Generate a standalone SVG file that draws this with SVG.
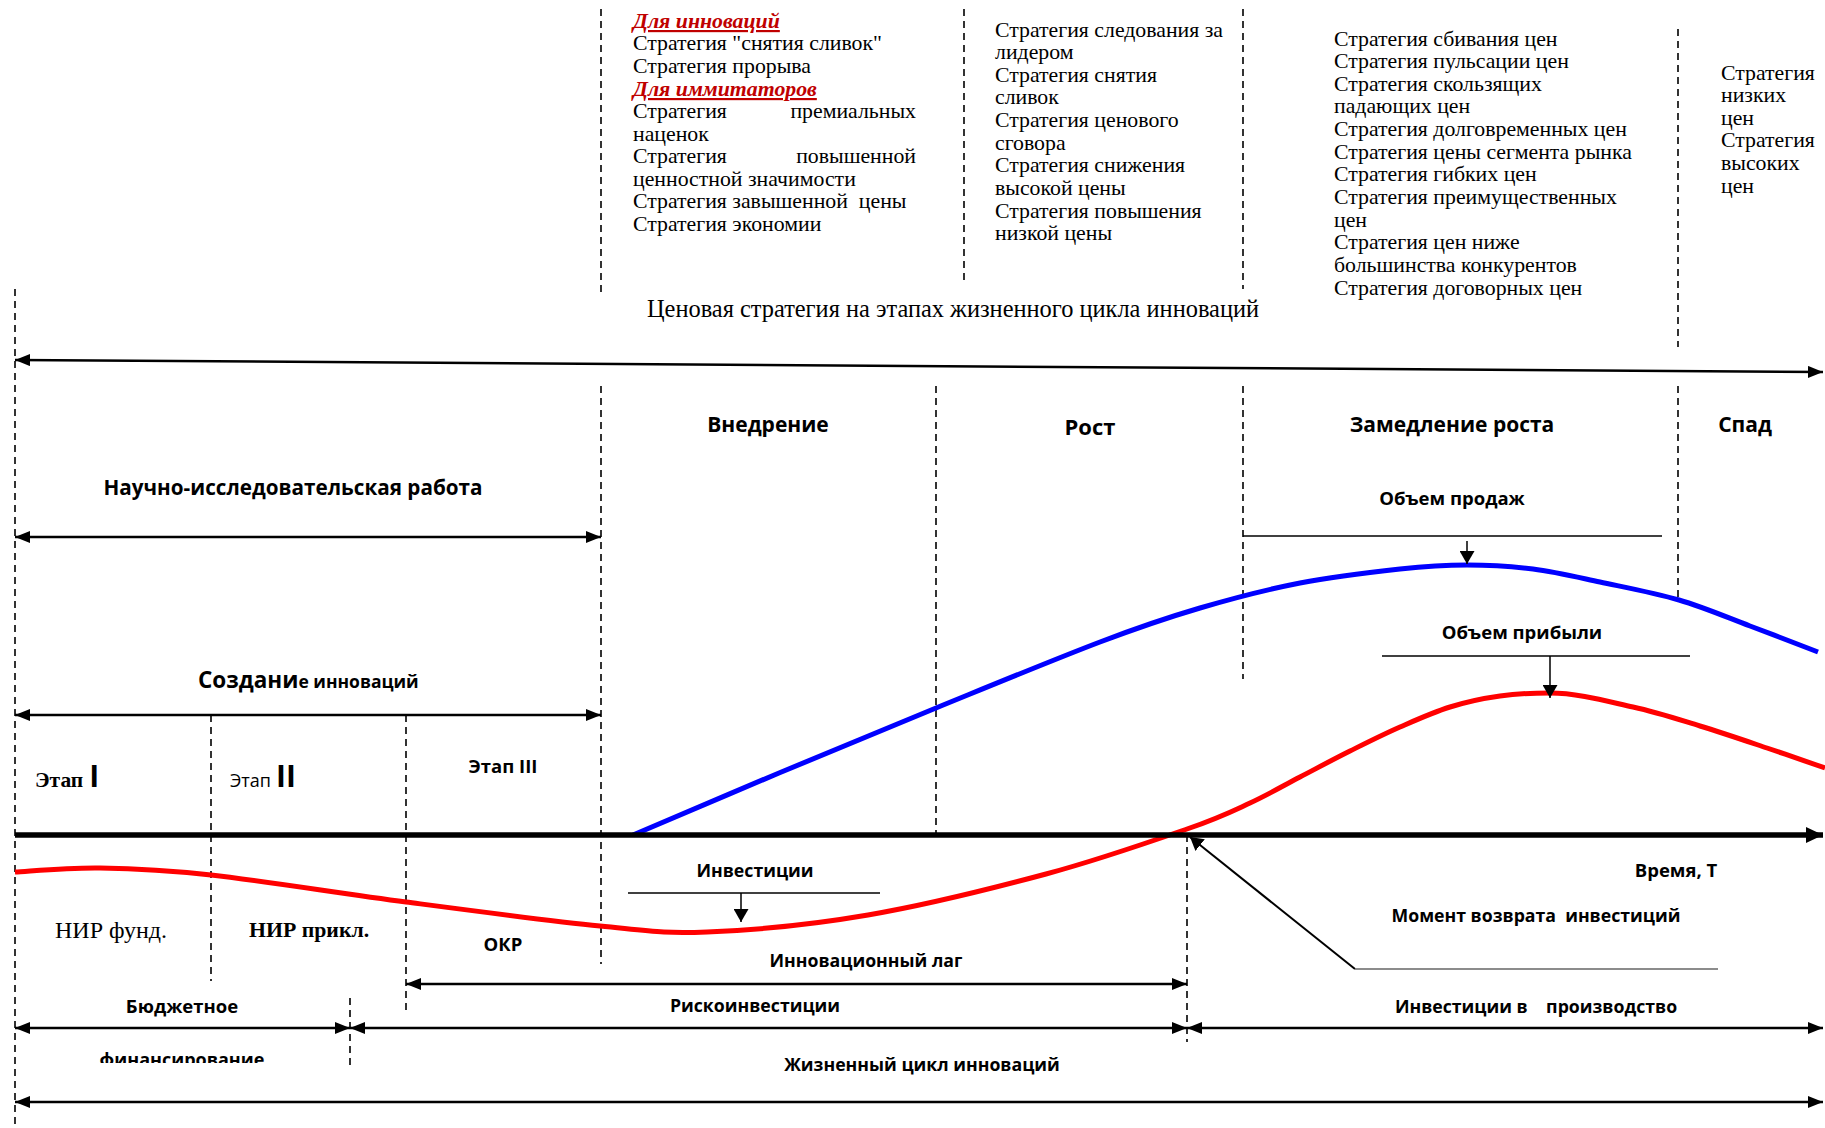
<svg xmlns="http://www.w3.org/2000/svg" width="1825" height="1128" viewBox="0 0 1825 1128">
<defs>
<style>
.ser{font-family:"Liberation Serif","Times New Roman",serif;font-size:21.8px;fill:#000}
.hd{font-family:"Liberation Serif","Times New Roman",serif;font-size:21.8px;fill:#c00000;font-weight:bold;font-style:italic;text-decoration:underline}
.b{font-family:"Open Sans","Noto Sans",sans-serif;font-weight:bold;fill:#000;font-size:18.5px}
.s{font-size:17.7px}
.ph{font-family:"Open Sans","Noto Sans",sans-serif;font-weight:bold;fill:#000;font-size:21px}
.mid{text-anchor:middle}
.dash{stroke:#000;stroke-width:1.6;stroke-dasharray:7 5;fill:none}
.ln{stroke:#000;stroke-width:2.5;fill:none}
.thin{stroke:#000;stroke-width:1.5;fill:none}
</style>
<marker id="arr" viewBox="0 0 15 12" refX="15" refY="6" markerWidth="15" markerHeight="12" markerUnits="userSpaceOnUse" orient="auto-start-reverse"><path d="M0,0 L15,6 L0,12 z" fill="#000"/></marker>
<marker id="arrBig" viewBox="0 0 17 16" refX="17" refY="8" markerWidth="17" markerHeight="16" markerUnits="userSpaceOnUse" orient="auto-start-reverse"><path d="M0,0 L17,8 L0,16 z" fill="#000"/></marker>
<marker id="arrSm" viewBox="0 0 13 15" refX="13" refY="7.5" markerWidth="13" markerHeight="15" markerUnits="userSpaceOnUse" orient="auto"><path d="M0,0 L13,7.5 L0,15 z" fill="#000"/></marker>
<clipPath id="clipFin"><rect x="0" y="1040" width="400" height="23"/></clipPath>
</defs>
<rect width="1825" height="1128" fill="#fff"/>

<g id="gridlines">
<line class="dash" x1="15" y1="289" x2="15" y2="1128"/>
<line class="dash" x1="601" y1="9" x2="601" y2="297"/>
<line class="dash" x1="964" y1="9" x2="964" y2="283"/>
<line class="dash" x1="1243" y1="9" x2="1243" y2="289"/>
<line class="dash" x1="1678" y1="29" x2="1678" y2="347"/>
<line class="dash" x1="601" y1="386" x2="601" y2="964"/>
<line class="dash" x1="936" y1="386" x2="936" y2="835"/>
<line class="dash" x1="1243" y1="386" x2="1243" y2="679"/>
<line class="dash" x1="1678" y1="386" x2="1678" y2="598"/>
<line class="dash" x1="211" y1="715" x2="211" y2="981"/>
<line class="dash" x1="406" y1="715" x2="406" y2="1014"/>
<line class="dash" x1="1187" y1="835" x2="1187" y2="1042"/>
<line class="dash" x1="350" y1="998" x2="350" y2="1069"/>
</g>

<g id="curves">
<path id="sales-curve" fill="none" stroke="#0000ff" stroke-width="5" d="M633,835 C657.3,824.7 728.5,794.2 779,773 C829.5,751.8 882.5,729.8 936,708 C989.5,686.2 1056,658.7 1100,642 C1144,625.3 1166.7,617.8 1200,608 C1233.3,598.2 1266.7,589.5 1300,583 C1333.3,576.5 1372.2,572 1400,569 C1427.8,566 1444.8,565 1467,565 C1489.2,565 1510.8,566.2 1533,569 C1555.2,571.8 1575.7,576.8 1600,582 C1624.3,587.2 1654,592.7 1679,600 C1704,607.3 1726.8,617.3 1750,626 C1773.2,634.7 1806.7,647.7 1818,652"/>
<path id="profit-curve" fill="none" stroke="#ff0000" stroke-width="5" d="M15,872 C29.2,871.3 67.3,867.5 100,868 C132.7,868.5 160,869.3 211,875 C262,880.7 341.2,893.5 406,902 C470.8,910.5 549.8,921 600,926 C650.2,931 662.3,933.8 707,932 C751.7,930.2 811.5,924.7 868,915 C924.5,905.3 992.8,888.3 1046,874 C1099.2,859.7 1153,840.8 1187,829 C1221,817.2 1231.2,811.7 1250,803 C1268.8,794.3 1283.3,785.7 1300,777 C1316.7,768.3 1333.3,759.3 1350,751 C1366.7,742.7 1383.3,734.3 1400,727 C1416.7,719.7 1433.3,712.2 1450,707 C1466.7,701.8 1483.3,698.3 1500,696 C1516.7,693.7 1525,693 1550,693 C1578,693 1608,701.5 1633,707 C1658,712.5 1677.7,719.2 1700,726 C1722.3,732.8 1746.2,741 1767,748 C1787.8,755 1815.3,764.7 1825,768"/>
</g>

<g id="connectors">
<line class="ln" x1="15" y1="360" x2="1823" y2="372" marker-start="url(#arr)" marker-end="url(#arr)"/>
<line class="ln" x1="15" y1="537" x2="601" y2="537" marker-start="url(#arr)" marker-end="url(#arr)"/>
<line class="ln" x1="15" y1="715" x2="601" y2="715" marker-start="url(#arr)" marker-end="url(#arr)"/>
<line x1="15" y1="835" x2="1823" y2="835" stroke="#000" stroke-width="5.5" marker-end="url(#arrBig)"/>
<line class="ln" x1="406" y1="984" x2="1187" y2="984" marker-start="url(#arr)" marker-end="url(#arr)"/>
<line class="ln" x1="15" y1="1028" x2="350" y2="1028" marker-start="url(#arr)" marker-end="url(#arr)"/>
<line class="ln" x1="350" y1="1028" x2="1187" y2="1028" marker-start="url(#arr)" marker-end="url(#arr)"/>
<line class="ln" x1="1187" y1="1028" x2="1823" y2="1028" marker-start="url(#arr)" marker-end="url(#arr)"/>
<line class="ln" x1="15" y1="1102" x2="1823" y2="1102" marker-start="url(#arr)" marker-end="url(#arr)"/>
<line class="thin" x1="1243" y1="536" x2="1662" y2="536"/>
<line class="thin" x1="1467" y1="541" x2="1467" y2="564" marker-end="url(#arrSm)"/>
<line class="thin" x1="1382" y1="656" x2="1690" y2="656"/>
<line class="thin" x1="1550" y1="656" x2="1550" y2="698" marker-end="url(#arrSm)"/>
<line class="thin" x1="628" y1="893" x2="880" y2="893"/>
<line class="thin" x1="741" y1="893" x2="741" y2="922" marker-end="url(#arrSm)"/>
<line x1="1355" y1="969" x2="1190" y2="837" stroke="#000" stroke-width="2" marker-end="url(#arrSm)"/>
<line x1="1355" y1="969" x2="1718" y2="969" stroke="#666" stroke-width="1.3"/>
</g>

<g id="strategy-introduction">
<text class="hd" x="633" y="28">Для инноваций</text>
<text class="ser" x="633" y="50">Стратегия "снятия сливок"</text>
<text class="ser" x="633" y="73">Стратегия прорыва</text>
<text class="hd" x="633" y="96">Для иммитаторов</text>
<text class="ser" x="633" y="118">Стратегия</text>
<text class="ser" x="916" y="118" text-anchor="end">премиальных</text>
<text class="ser" x="633" y="141">наценок</text>
<text class="ser" x="633" y="163">Стратегия</text>
<text class="ser" x="916" y="163" text-anchor="end">повышенной</text>
<text class="ser" x="633" y="186">ценностной значимости</text>
<text class="ser" x="633" y="208" xml:space="preserve">Стратегия завышенной  цены</text>
<text class="ser" x="633" y="231">Стратегия экономии</text>
</g>

<g id="strategy-growth">
<text class="ser" x="995" y="37">Стратегия следования за</text>
<text class="ser" x="995" y="59">лидером</text>
<text class="ser" x="995" y="82">Стратегия снятия</text>
<text class="ser" x="995" y="104">сливок</text>
<text class="ser" x="995" y="127">Стратегия ценового</text>
<text class="ser" x="995" y="150">сговора</text>
<text class="ser" x="995" y="172">Стратегия снижения</text>
<text class="ser" x="995" y="195">высокой цены</text>
<text class="ser" x="995" y="218">Стратегия повышения</text>
<text class="ser" x="995" y="240">низкой цены</text>
</g>

<g id="strategy-maturity">
<text class="ser" x="1334" y="46">Стратегия сбивания цен</text>
<text class="ser" x="1334" y="68">Стратегия пульсации цен</text>
<text class="ser" x="1334" y="91">Стратегия скользящих</text>
<text class="ser" x="1334" y="113">падающих цен</text>
<text class="ser" x="1334" y="136">Стратегия долговременных цен</text>
<text class="ser" x="1334" y="159">Стратегия цены сегмента рынка</text>
<text class="ser" x="1334" y="181">Стратегия гибких цен</text>
<text class="ser" x="1334" y="204">Стратегия преимущественных</text>
<text class="ser" x="1334" y="227">цен</text>
<text class="ser" x="1334" y="249">Стратегия цен ниже</text>
<text class="ser" x="1334" y="272">большинства конкурентов</text>
<text class="ser" x="1334" y="295">Стратегия договорных цен</text>
</g>

<g id="strategy-decline">
<text class="ser" x="1721" y="80">Стратегия</text>
<text class="ser" x="1721" y="102">низких</text>
<text class="ser" x="1721" y="125">цен</text>
<text class="ser" x="1721" y="147">Стратегия</text>
<text class="ser" x="1721" y="170">высоких</text>
<text class="ser" x="1721" y="193">цен</text>
</g>

<g id="title">
<text class="ser mid" x="953" y="317" style="font-size:24.4px">Ценовая стратегия на этапах жизненного цикла инноваций</text>
</g>

<g id="phase-introduction"><text class="ph mid" x="768" y="432">Внедрение</text></g>
<g id="phase-growth"><text class="ph mid" x="1090" y="435" style="font-size:22px">Рост</text></g>
<g id="phase-maturity"><text class="ph mid" x="1452" y="432">Замедление роста</text></g>
<g id="phase-decline"><text class="ph mid" x="1745" y="432">Спад</text></g>

<g id="research"><text class="b mid" x="293" y="495" style="font-size:20.7px">Научно-исследовательская работа</text></g>
<g id="creation"><text class="b" x="198" y="688"><tspan style="font-size:22.5px">Создани</tspan><tspan style="font-size:17.5px">е инноваций</tspan></text></g>

<g id="stage-1"><text x="35" y="787"><tspan style="font-family:'Liberation Serif',serif;font-weight:bold;font-size:21.5px">Этап</tspan><tspan style="font-family:'Open Sans',sans-serif;font-weight:bold;font-size:30px" dx="6">I</tspan></text></g>
<g id="stage-2"><text x="230" y="787"><tspan style="font-family:'Open Sans',sans-serif;font-size:18px">Этап</tspan><tspan style="font-family:'Open Sans',sans-serif;font-weight:bold;font-size:30px" dx="5">II</tspan></text></g>
<g id="stage-3"><text class="b mid" x="503" y="773">Этап III</text></g>

<g id="sales-label"><text class="b mid" x="1452" y="505">Объем продаж</text></g>
<g id="profit-label"><text class="b mid" x="1522" y="639">Объем прибыли</text></g>
<g id="investment-label"><text class="b s mid" x="755" y="877">Инвестиции</text></g>
<g id="time-label"><text class="b mid" x="1676" y="877">Время, Т</text></g>
<g id="payback-label"><text class="b s mid" x="1536" y="922" xml:space="preserve">Момент возврата  инвестиций</text></g>

<g id="nir-fund"><text class="ser" x="55" y="938" style="font-size:24px">НИР фунд.</text></g>
<g id="nir-appl"><text class="ser" x="249" y="937" font-weight="bold">НИР прикл.</text></g>
<g id="okr"><text class="b mid" x="503" y="951">ОКР</text></g>
<g id="lag"><text class="b s mid" x="866" y="967">Инновационный лаг</text></g>

<g id="budget"><text class="b mid" x="182" y="1013">Бюджетное</text><text class="b mid" x="182" y="1066" clip-path="url(#clipFin)" style="font-size:18px">финансирование</text></g>
<g id="risk"><text class="b s mid" x="755" y="1012">Рискоинвестиции</text></g>
<g id="production"><text class="b s mid" x="1536" y="1013" xml:space="preserve">Инвестиции в    производство</text></g>
<g id="lifecycle"><text class="b s mid" x="922" y="1071">Жизненный цикл инноваций</text></g>
</svg>
